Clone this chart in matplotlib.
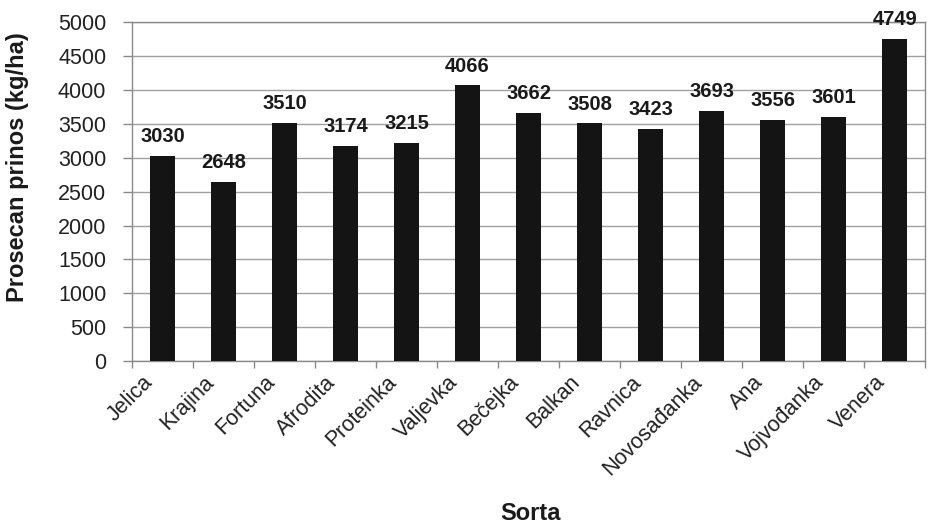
import matplotlib
matplotlib.use("Agg")
from matplotlib import pyplot as plt
import matplotlib.transforms as mtransforms
import numpy as np

plt.rcParams['font.family'] = ['Liberation Sans', 'DejaVu Sans']

# yield per variety
sorte = ['Jelica', 'Krajina', 'Fortuna', 'Afrodita', 'Proteinka', 'Valjevka',
         'Bečejka', 'Balkan', 'Ravnica', 'Novosađanka', 'Ana', 'Vojvođanka', 'Venera']
prinos = [3030, 2648, 3510, 3174, 3215, 4066, 3662, 3508, 3423, 3693, 3556, 3601, 4749]
y_ticks = list(range(0, 5001, 500))

fig = plt.figure(figsize=(9.29, 5.28), dpi=100)
ax = fig.add_axes([0.142, 0.316, 0.854, 0.642])

x = np.arange(len(sorte))
bars = ax.bar(x, prinos, width=0.41, color='#141414', zorder=3)
ax.bar_label(bars, labels=[str(v) for v in prinos], padding=7,
             fontsize=14.5, fontweight='bold', color='#1a1a1a')

ax.set_xlim(-0.5, len(sorte) - 0.5)
ax.set_ylim(0, 5000)
ax.set_yticks(y_ticks)
ax.set_yticklabels([str(v) for v in y_ticks], fontsize=15.5, color='#222222')
ax.grid(axis='y', color='#a0a0a0', linewidth=1.0, zorder=0)

for s in ax.spines.values():
    s.set_color('#8a8a8a')
    s.set_linewidth(1.0)

ax.tick_params(axis='y', length=6.5, width=1.0, color='#8a8a8a', pad=12)

# labels at bar centres, tick marks at category boundaries
ax.set_xticks(x)
ax.set_xticklabels(sorte, rotation=45, ha='right', va='center',
                   rotation_mode='anchor', fontsize=15.5, color='#222222')
ax.tick_params(axis='x', which='major', length=0, pad=13)
ax.set_xticks(np.arange(-0.5, len(sorte), 1.0), minor=True)
ax.tick_params(axis='x', which='minor', length=5, width=1.0, color='#8a8a8a')
offset = mtransforms.ScaledTranslation(-0.13, 0, fig.dpi_scale_trans)
for lab in ax.get_xticklabels():
    lab.set_transform(lab.get_transform() + offset)

fig.text(0.019, 1 - 167 / 528, 'Prosecan prinos (kg/ha)', rotation=90,
         ha='center', va='center', fontsize=17, fontweight='bold', color='#1a1a1a')
fig.text(0.571, 1 - 513 / 528, 'Sorta', ha='center', va='center',
         fontsize=17, fontweight='bold', color='#1a1a1a')

fig.savefig('out.png', dpi=100)
